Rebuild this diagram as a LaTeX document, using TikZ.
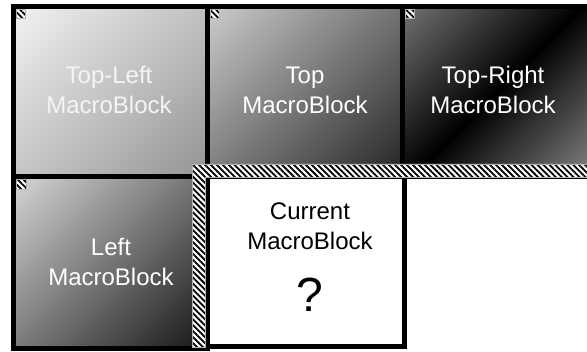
\documentclass[tikz,border=0pt]{standalone}
\usepackage{fontspec}
\setmainfont{Liberation Sans}
\usetikzlibrary{patterns.meta}
\pgfdeclareverticalshading{shTL}{100bp}{color(0bp)=(black!42); color(14.6bp)=(black!42); color(85.4bp)=(black!5); color(100bp)=(black!5)}
\pgfdeclareverticalshading{shT}{100bp}{color(0bp)=(black!86); color(14.6bp)=(black!86); color(85.4bp)=(black!20); color(100bp)=(black!20)}
\pgfdeclareverticalshading{shTR}{100bp}{color(0bp)=(black!48); color(14.6bp)=(black!48); color(50bp)=(black); color(85.4bp)=(black!55); color(100bp)=(black!55)}
\pgfdeclareverticalshading{shL}{100bp}{color(0bp)=(black!92); color(14.6bp)=(black!92); color(85.4bp)=(black!16); color(100bp)=(black!16)}
\begin{document}
\begin{tikzpicture}[x=1pt,y=-1pt,
  blockbox/.style={draw=black,line width=5pt},
  hatch/.style={preaction={fill=white},pattern={Lines[angle=-45,distance=4.2pt,line width=1.8pt]},pattern color=black,draw=gray!60,line width=0.5pt},
  lbl/.style={align=center,font=\fontsize{24}{30}\selectfont,inner sep=0pt}
]
\useasboundingbox (0,0) rectangle (587,352);
\fill[white] (0,0) rectangle (587,352);
% blocks
\shade[shading=shTL,shading angle=45] (13.5,6.5) rectangle (207.5,176.5);
\draw[blockbox] (13.5,6.5) rectangle (207.5,176.5);
\shade[shading=shT,shading angle=45] (207.5,6.5) rectangle (402.5,176.5);
\draw[blockbox] (207.5,6.5) rectangle (402.5,176.5);
\shade[shading=shTR,shading angle=45] (402.5,6.5) rectangle (592,176.5);
\draw[blockbox] (402.5,6.5) rectangle (600,176.5);
\shade[shading=shL,shading angle=45] (13.5,176.5) rectangle (207.5,348.5);
\draw[blockbox] (13.5,176.5) rectangle (207.5,348.5);
\fill[white] (207.5,176.5) rectangle (404.5,346.5);
\draw[blockbox] (207.5,176.5) rectangle (404.5,346.5);
% corner markers
\filldraw[hatch] (16,9) rectangle (25,18);
\filldraw[hatch] (210,9) rectangle (219,18);
\filldraw[hatch] (405,9) rectangle (414,18);
\filldraw[hatch] (16,179) rectangle (26,189);
% hatched L strip
\filldraw[hatch] (192,164) -- (600,164) -- (600,177) -- (205,177) -- (205,347) -- (192,347) -- cycle;
% labels
\node[lbl,text=black!4] (tl) at (109,90) {Top-Left\\MacroBlock};
\node[lbl,text=white] (t) at (305,90) {Top\\MacroBlock};
\node[lbl,text=white] (tr) at (493,90) {Top-Right\\MacroBlock};
\node[lbl,text=white] (l) at (111,262) {Left\\MacroBlock};
\node[lbl,text=black] (c) at (310,226) {Current\\MacroBlock};
\node[inner sep=0pt,font=\fontsize{48}{52}\selectfont] (q) at (310,295) {?};
\end{tikzpicture}
\end{document}
